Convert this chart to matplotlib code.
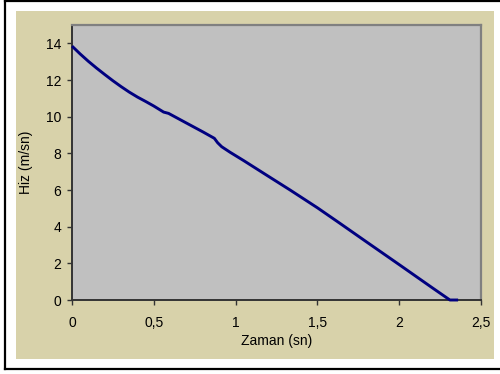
import matplotlib.pyplot as plt
from matplotlib.patches import Rectangle
from matplotlib.lines import Line2D

# zaman (sn) - hiz (m/sn) olcumleri
zaman = [0.0, 0.05, 0.1, 0.15, 0.2, 0.25, 0.3, 0.35, 0.4, 0.45, 0.5, 0.56, 0.59,
         0.7, 0.8, 0.87, 0.89, 0.915, 0.966, 1.05, 1.2, 1.333, 1.5, 1.638, 1.8,
         2.0, 2.2, 2.31, 2.36]
hiz = [13.85, 13.42, 13.02, 12.65, 12.3, 11.96, 11.64, 11.34, 11.07, 10.83, 10.58,
       10.25, 10.18, 9.65, 9.17, 8.82, 8.58, 8.36, 8.06, 7.6, 6.75, 6.0, 5.03, 4.18,
       3.17, 1.93, 0.68, 0.0, 0.0]

xticks = [0, 0.5, 1, 1.5, 2, 2.5]
xtick_labels = ['0', '0,5', '1', '1,5', '2', '2,5']
yticks = [0, 2, 4, 6, 8, 10, 12, 14]

plt.rcParams['font.family'] = ['Liberation Sans', 'DejaVu Sans']

W, H = 500, 374
fig = plt.figure(figsize=(5, 3.74), dpi=100, facecolor='white')

# cerceve (sag kenar yok) ve bej zemin
x0, y0, y1 = 5 / W, 1 - 369 / H, 1 - 1 / H
for xs, ys in [([x0, x0], [y0, y1]), ([x0, 1], [y1, y1]), ([x0, 1], [y0, y0])]:
    fig.lines.append(Line2D(xs, ys, transform=fig.transFigure,
                            color='black', linewidth=1.6, zorder=-2))
fig.patches.append(Rectangle((16 / W, 1 - 359 / H), (494 - 16) / W, (359 - 11) / H,
                             transform=fig.transFigure, facecolor='#D8D2AA',
                             edgecolor='none', zorder=-1))

ax = fig.add_axes([72 / W, 1 - 300 / H, (481 - 72) / W, (300 - 25) / H])
ax.set_zorder(1)
ax.set_facecolor('#C0C0C0')
ax.plot(zaman, hiz, color='#000080', linewidth=2.1, solid_capstyle='butt',
        clip_on=False, zorder=3)

ax.set_xlim(0, 2.5)
ax.set_ylim(0, 15)
ax.set_xticks(xticks)
ax.set_xticklabels(xtick_labels)
ax.set_yticks(yticks)
ax.tick_params(axis='both', direction='out', length=3.6, width=1,
               color='#333333', labelsize=10)
ax.tick_params(axis='x', pad=8)
ax.tick_params(axis='y', pad=4)

for s in ['left', 'bottom']:
    ax.spines[s].set_color('#333333')
    ax.spines[s].set_linewidth(1.4)
for s in ['top', 'right']:
    ax.spines[s].set_color('#808080')
    ax.spines[s].set_linewidth(1.6)

ax.set_xlabel('Zaman (sn)', fontsize=10, labelpad=3)
ax.set_ylabel('Hiz (m/sn)', fontsize=10, labelpad=9)

fig.savefig('out.png', dpi=100, facecolor='white')
